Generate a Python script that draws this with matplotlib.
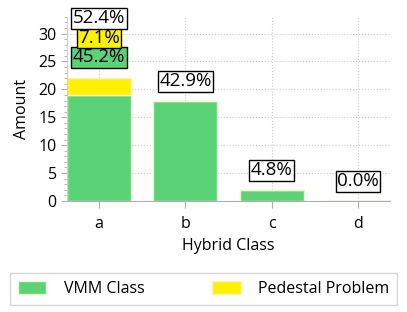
import matplotlib
matplotlib.use("Agg")
import matplotlib.pyplot as plt
from matplotlib.ticker import MultipleLocator

# data
categories = ["a", "b", "c", "d"]
vmm_class = [19, 18, 2, 0]
pedestal = [3, 0, 0, 0]

total = sum(vmm_class) + sum(pedestal)

GREEN = "#59d376"
YELLOW = "#fff200"

plt.rcParams["font.family"] = ["Open Sans", "DejaVu Sans"]

fig = plt.figure(figsize=(4.07, 3.12), dpi=100)
ax = fig.add_axes([0.165, 0.356, 0.793, 0.590])

x = list(range(len(categories)))
width = 0.74
ax.bar(x, vmm_class, width, color=GREEN, edgecolor="#e8f5d0", linewidth=1,
       label="VMM Class", zorder=2)
ax.bar(x, pedestal, width, bottom=vmm_class, color=YELLOW, edgecolor="#f7f3c8",
       linewidth=1, label="Pedestal Problem", zorder=2)

box = dict(boxstyle="square,pad=0.08", edgecolor="black", linewidth=1)
for i in x:
    top = vmm_class[i] + pedestal[i]
    if pedestal[i] > 0:
        # stacked: VMM share, pedestal share, then total share
        labels = [
            (vmm_class[i] / total, GREEN),
            (pedestal[i] / total, YELLOW),
            (top / total, "white"),
        ]
        for k, (frac, fc) in enumerate(labels):
            ax.annotate(f"{frac * 100:.1f}%", (i, top), xytext=(0, 15 + k * 14),
                        textcoords="offset points", ha="center", va="center",
                        fontsize=13.5, bbox=dict(box, facecolor=fc),
                        annotation_clip=False, zorder=5)
    else:
        ax.annotate(f"{top / total * 100:.1f}%", (i, top), xytext=(0, 14),
                    textcoords="offset points", ha="center", va="center",
                    fontsize=13.5, bbox=dict(box, facecolor="white"),
                    annotation_clip=False, zorder=5)

ax.set_xlim(-0.37, 3.37)
ax.set_ylim(0, 33)
ax.set_xticks(x)
ax.set_xticklabels(categories)
ax.yaxis.set_major_locator(MultipleLocator(5))
ax.yaxis.set_minor_locator(MultipleLocator(1))

ax.grid(True, which="major", linestyle=":", color="#cccccc", linewidth=0.8, zorder=0)
ax.set_axisbelow(True)
for side in ("top", "right"):
    ax.spines[side].set_visible(False)
ax.spines["left"].set_color("#d0d0d0")
ax.spines["bottom"].set_color("#b0b0b0")
ax.tick_params(axis="both", which="both", colors="#b0b0b0", labelcolor="black",
               labelsize=11.5)
ax.tick_params(axis="y", which="major", length=4)
ax.tick_params(axis="y", which="minor", length=2)
ax.tick_params(axis="x", length=5, pad=6)

ax.set_xlabel("Hybrid Class", fontsize=11.5, labelpad=4)
ax.set_ylabel("Amount", fontsize=11.5, labelpad=6)

leg = fig.legend(loc="lower center", bbox_to_anchor=(0.5, 0.022), ncol=2,
                 frameon=True, fancybox=False, fontsize=11.5,
                 handlelength=1.8, handleheight=0.9, handletextpad=1.1,
                 columnspacing=4.2, borderpad=0.5, borderaxespad=0,
                 edgecolor="#cccccc")

fig.savefig("out.png", dpi=100)
